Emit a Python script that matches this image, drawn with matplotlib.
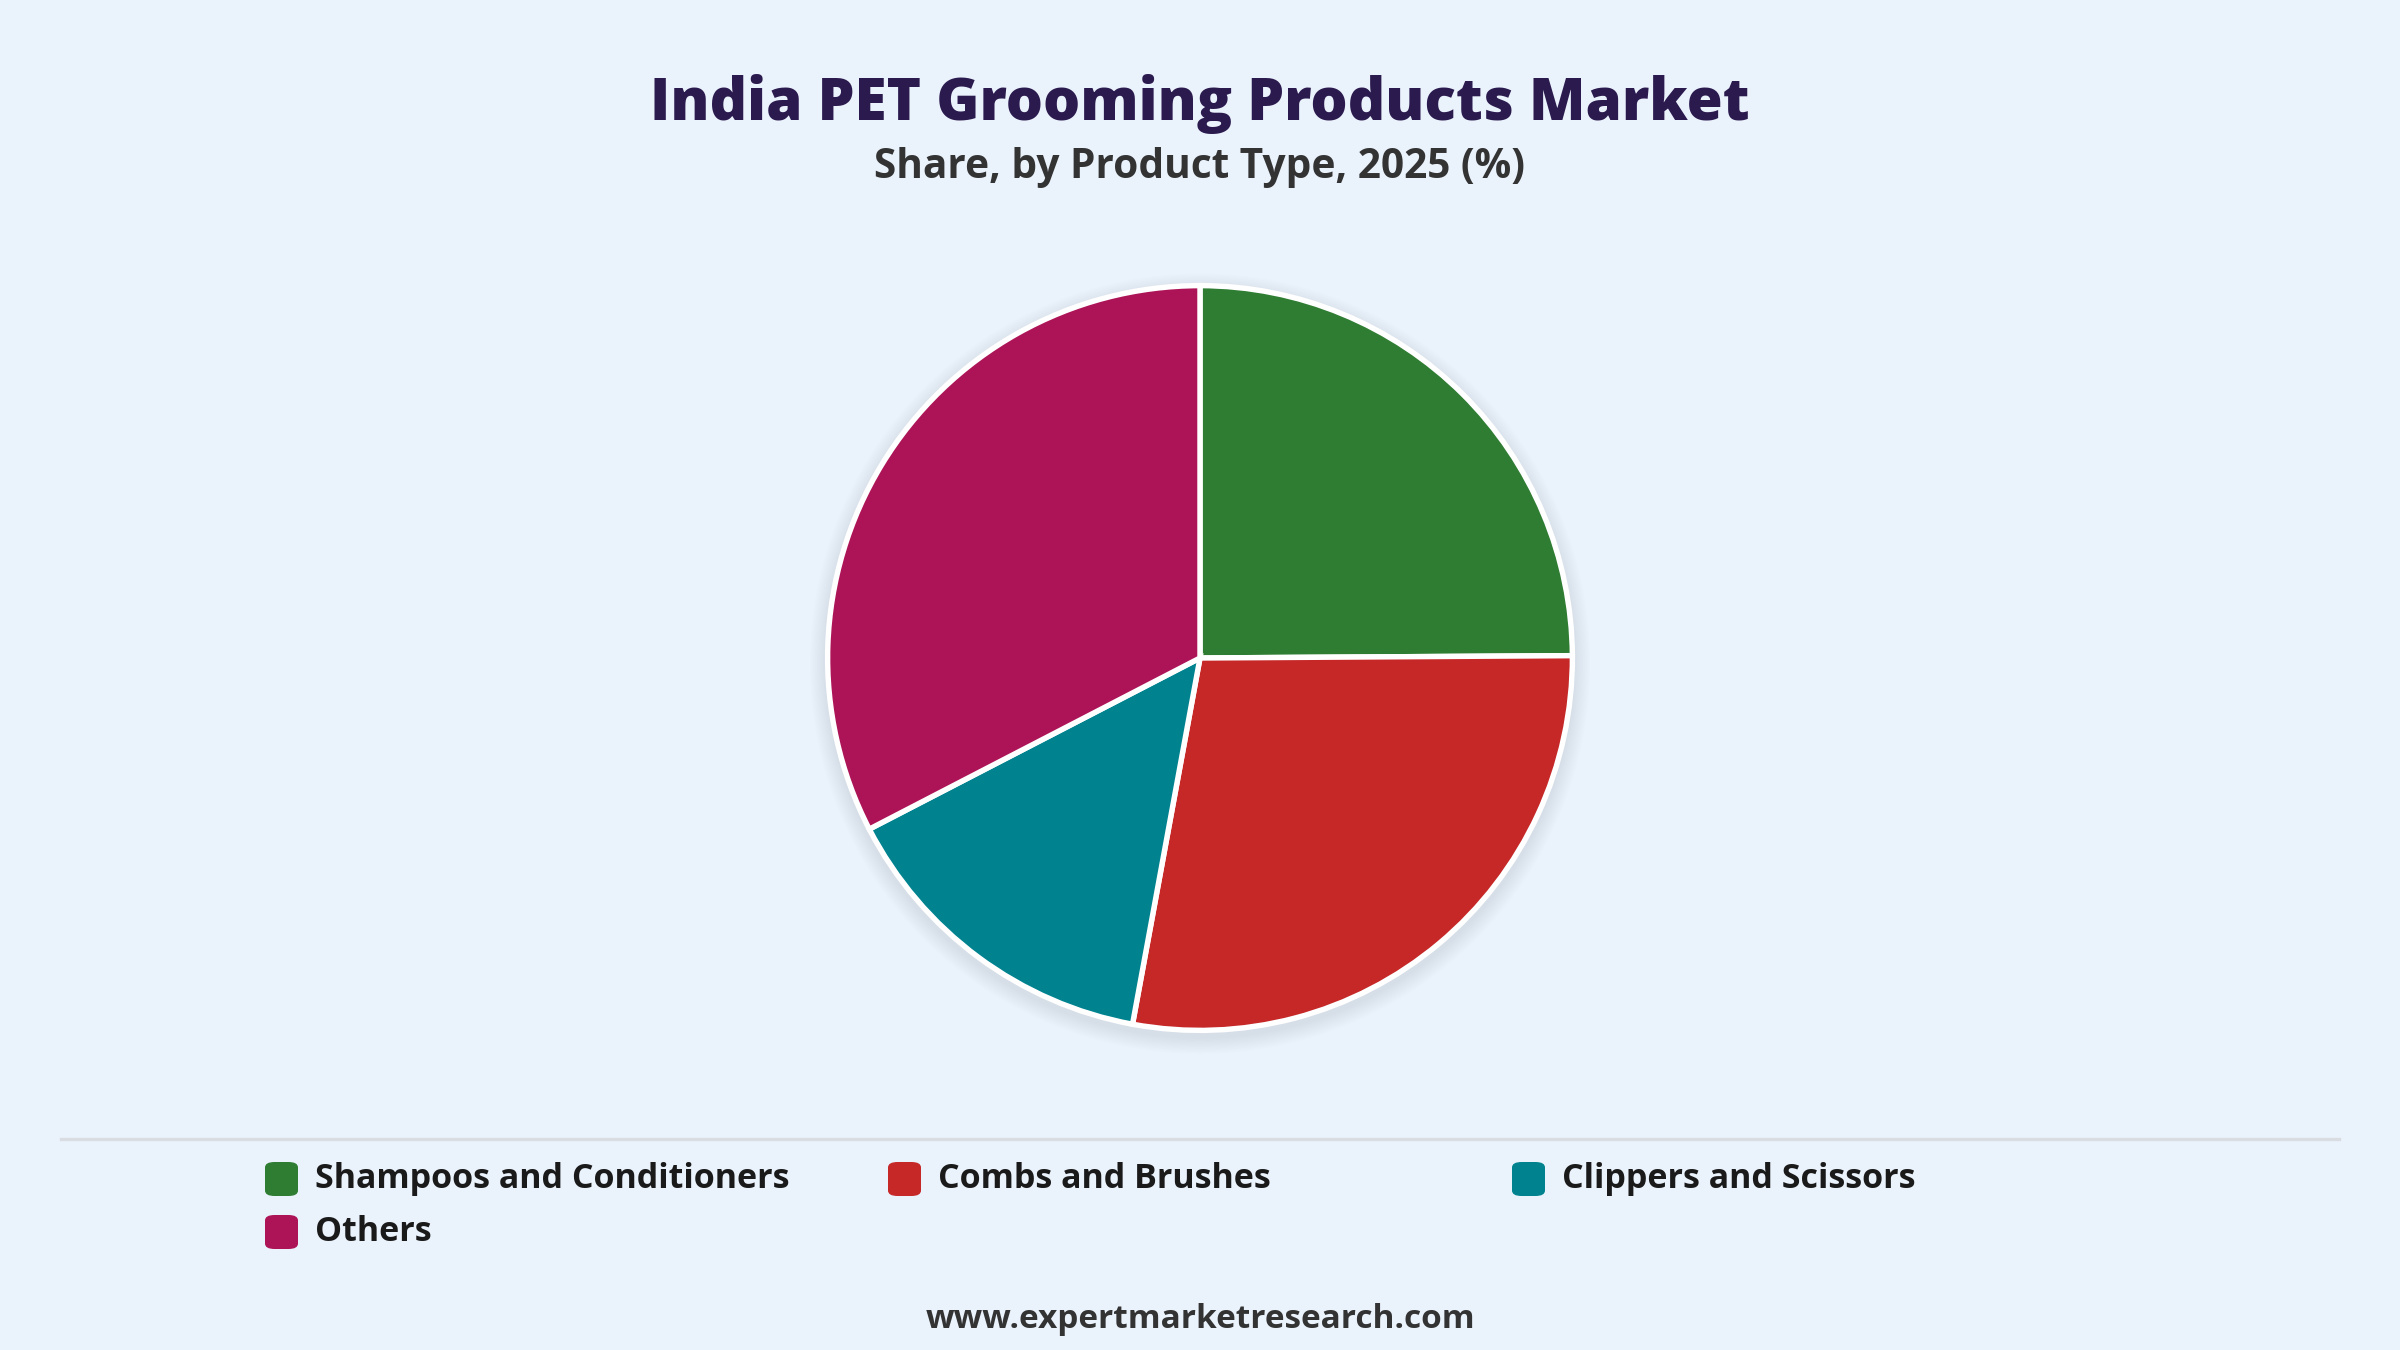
import matplotlib
matplotlib.use("Agg")
import matplotlib.pyplot as plt
from matplotlib.patches import FancyBboxPatch, Circle
import numpy as np

# ---- data ----
categories = ["Shampoos and Conditioners", "Combs and Brushes", "Clippers and Scissors", "Others"]
shares = [24.9, 28.0, 14.5, 32.6]
colors = ["#2e7d32", "#c62828", "#00838f", "#ad1457"]

title = "India PET Grooming Products Market"
subtitle = "Share, by Product Type, 2025 (%)"
footer = "www.expertmarketresearch.com"

BG = "#eaf2fc"
W, H = 2400, 1350
plt.rcParams['font.family'] = ['Open Sans', 'DejaVu Sans']

fig = plt.figure(figsize=(16, 9), dpi=150, facecolor=BG)

# pie axes (1 data unit = 375 px)
cx, cy = 1200 / W, 1 - 658 / H
half = 430
lim = half / 375
ax = fig.add_axes([cx - half / W, cy - half / H, 2 * half / W, 2 * half / H])
ax.set_facecolor('none')
ax.axis('off')

# soft shadow
for s in np.linspace(1.04, 1.0, 10):
    ax.add_patch(Circle((0.0, -0.015), s, color="#98a8ba", alpha=0.025, lw=0, zorder=0))

ax.pie(shares, colors=colors, startangle=90, counterclock=False, radius=0.993,
       wedgeprops=dict(edgecolor="white", linewidth=2.6), center=(0, 0))
ax.set_xlim(-lim, lim)
ax.set_ylim(-lim, lim)
ax.set_aspect('equal')

# titles
fig.text(0.5, 1 - 104 / H, title, ha='center', va='center', fontsize=28,
         fontweight='heavy', color="#2b1a4e")
fig.text(0.5, 1 - 167 / H, subtitle, ha='center', va='center', fontsize=19.5,
         fontweight='bold', color="#333333")

# separator
fig.add_artist(plt.Line2D([61 / W, 2339 / W], [1 - 1139 / H, 1 - 1139 / H],
                          color="#d9dde2", lw=1.6))

# legend
col_x = [265, 888, 1512]
row_y = [1179, 1232]
for i, (lab, colr) in enumerate(zip(categories, colors)):
    x0 = col_x[i % 3]
    y0 = row_y[i // 3]
    box = FancyBboxPatch((x0 / W, 1 - (y0 + 17) / H), 33 / W, 34 / H,
                         boxstyle="round,pad=0,rounding_size=0.004",
                         transform=fig.transFigure, facecolor=colr, edgecolor='none')
    fig.add_artist(box)
    fig.text((x0 + 50) / W, 1 - y0 / H, lab, ha='left', va='center', fontsize=16.3,
             fontweight='bold', color="#1a1a1a")

fig.text(0.5, 1 - 1319 / H, footer, ha='center', va='center', fontsize=16,
         fontweight='bold', color="#333333")

fig.savefig("out.png", dpi=150, facecolor=BG)
